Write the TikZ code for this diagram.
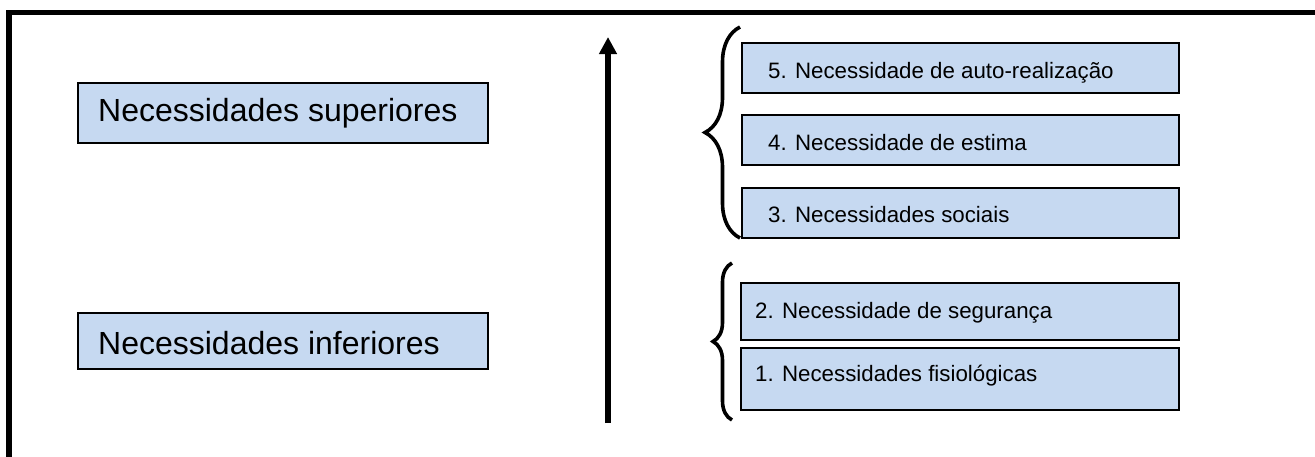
\documentclass[tikz,border=0pt]{standalone}
\usepackage{fontspec}
\setmainfont{Liberation Sans}
\usetikzlibrary{arrows.meta,decorations.pathreplacing}
\definecolor{boxfill}{RGB}{198,217,241}
\tikzset{
  needbox/.style={draw=black, line width=1.6pt, fill=boxfill, inner sep=0pt, anchor=north west},
  biglbl/.style={font=\fontsize{32}{36}\selectfont, inner sep=0pt, anchor=base west},
  smalllbl/.style={font=\fontsize{22.3}{26}\selectfont, inner sep=0pt, anchor=base west},
  bracestyle/.style={line width=3.6pt, decorate, decoration={brace, amplitude=#1}},
}
\begin{document}
\begin{tikzpicture}[x=1pt,y=-1pt]
\clip (0,0) rectangle (1315,456);
\fill[white] (0,0) rectangle (1315,456);
% frame
\draw[line width=5.5pt] (9,470) -- (9,12.5) -- (1330,12.5);
% left boxes
\node[needbox, minimum width=410pt, minimum height=60pt] (sup) at (77,82) {};
\node[biglbl] (supt) at (98,121.7) {Necessidades superiores};
\node[needbox, minimum width=410pt, minimum height=56pt] (inf) at (77,312) {};
\node[biglbl] (inft) at (98,354) {Necessidades inferiores};
% arrow
\coordinate (abot) at (608,423);
\coordinate (atop) at (608,37);
\draw[line width=6pt, -{Triangle[length=17pt,width=17pt]}] (abot) -- (atop);
% right boxes
\node[needbox, minimum width=437pt, minimum height=50pt] (b5) at (741,42) {};
\node[smalllbl] (b5t) at (768,78.3) {5. Necessidade de auto-realização};
\node[needbox, minimum width=437pt, minimum height=50pt] (b4) at (741,114) {};
\node[smalllbl] (b4t) at (768,150) {4. Necessidade de estima};
\node[needbox, minimum width=437pt, minimum height=50pt] (b3) at (741,187) {};
\node[smalllbl] (b3t) at (768,222.3) {3. Necessidades sociais};
\node[needbox, minimum width=438pt, minimum height=57pt] (b2) at (740,282) {};
\node[smalllbl] (b2t) at (755,318) {2. Necessidade de segurança};
\node[needbox, minimum width=438pt, minimum height=62pt] (b1) at (740,347) {};
\node[smalllbl] (b1t) at (755,381.7) {1. Necessidades fisiológicas};
% braces
\coordinate (ub) at (740,238);
\coordinate (ut) at (740,27);
\draw[bracestyle=35pt] (ub) -- (ut);
\coordinate (lb) at (732,420);
\coordinate (lt) at (732,263);
\draw[bracestyle=19pt] (lb) -- (lt);
\end{tikzpicture}
\end{document}
